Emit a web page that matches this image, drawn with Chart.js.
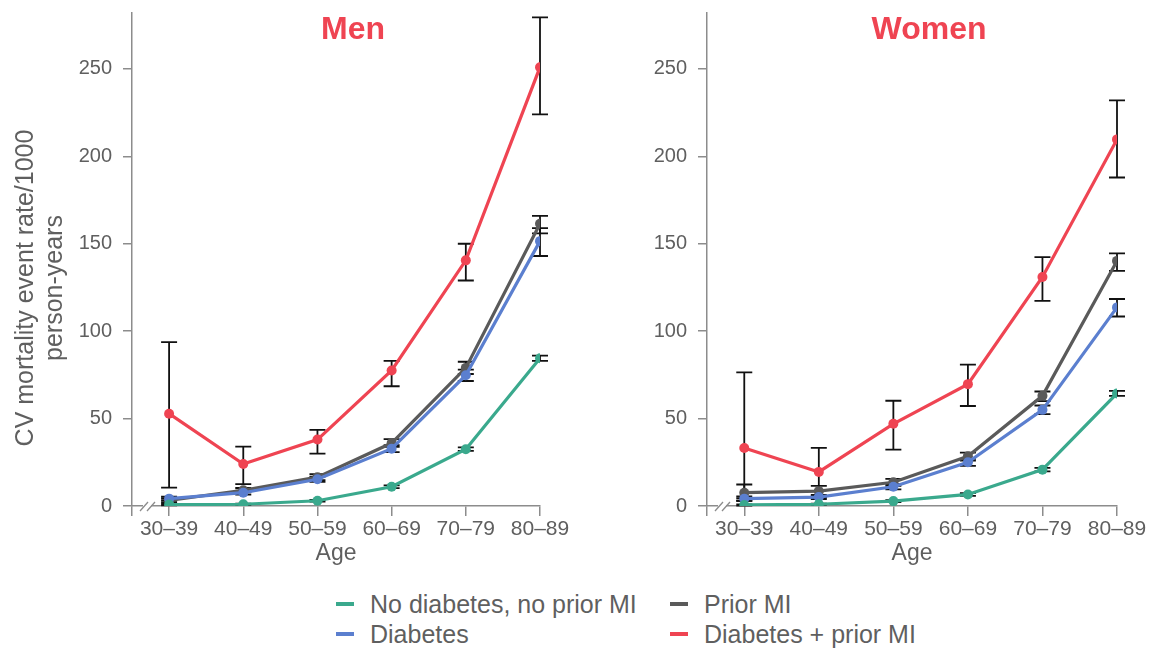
<!DOCTYPE html>
<html><head><meta charset="utf-8">
<script src="https://cdn.jsdelivr.net/npm/chart.js@4.4.1/dist/chart.umd.min.js"></script>
<style>
html,body{margin:0;padding:0;background:#fff;width:1150px;height:650px;overflow:hidden;font-family:"Liberation Sans",Arial,sans-serif;}
canvas{position:absolute;top:0;}
#legend{position:absolute;left:336px;top:589px;display:grid;grid-template-columns:334px auto;grid-auto-rows:30px;}
.item{display:flex;align-items:center;font-size:25px;color:#5f5f5f;white-space:nowrap;}
.mk{display:inline-block;width:18px;height:4px;margin-right:16px;}
</style></head>
<body>
<canvas id="men" width="575" height="575" style="left:0"></canvas>
<canvas id="women" width="575" height="575" style="left:575px"></canvas>
<div id="legend"></div>
<script>
// ---- data ----
const ageGroups = ['30–39','40–49','50–59','60–69','70–79','80–89'];
const yTickValues = [0,50,100,150,200,250];
const seriesNames = ['No diabetes, no prior MI','Diabetes','Prior MI','Diabetes + prior MI'];
const seriesColors = ['#3aa98d','#5b7fcf','#5a5a5a','#ef4452'];

// Men
const menNone     = [0.8, 1.0, 3.0, 11.0, 32.5, 84.5];
const menNoneLo   = [0.4, 0.6, 2.5, 10.2, 31.5, 83.0];
const menNoneHi   = [1.2, 1.4, 3.5, 11.8, 33.5, 86.0];
const menDiab     = [4.2, 7.6, 15.3, 32.8, 74.8, 151.5];
const menDiabLo   = [3.2, 6.5, 13.8, 30.8, 71.5, 143.0];
const menDiabHi   = [5.3, 8.8, 16.8, 34.8, 78.0, 159.0];
const menMI       = [3.2, 9.0, 16.5, 36.0, 79.0, 161.5];
const menMILo     = [2.2, 7.8, 14.8, 33.8, 75.5, 156.0];
const menMIHi     = [4.3, 10.3, 18.2, 38.2, 82.5, 166.0];
const menBoth     = [52.8, 24.0, 38.0, 77.5, 140.5, 251.0];
const menBothLo   = [10.5, 12.5, 30.0, 68.5, 129.0, 224.0];
const menBothHi   = [93.7, 34.0, 43.5, 83.0, 150.0, 279.5];

// Women
const womenNone   = [0.6, 1.0, 2.8, 6.6, 20.8, 64.4];
const womenNoneLo = [0.3, 0.6, 2.3, 5.8, 19.8, 63.0];
const womenNoneHi = [0.9, 1.4, 3.3, 7.4, 21.8, 65.8];
const womenDiab   = [4.2, 5.1, 11.0, 25.0, 55.0, 113.6];
const womenDiabLo = [3.0, 4.0, 9.5, 23.0, 52.5, 108.4];
const womenDiabHi = [5.5, 6.3, 12.5, 27.0, 57.5, 118.4];
const womenMI     = [7.6, 8.5, 13.6, 28.4, 63.0, 140.2];
const womenMILo   = [4.5, 5.5, 11.5, 26.0, 60.0, 134.5];
const womenMIHi   = [12.3, 11.5, 15.5, 30.5, 65.5, 144.5];
const womenBoth   = [33.2, 19.5, 47.0, 69.7, 131.0, 209.7];
const womenBothLo = [3.0, 5.0, 32.2, 57.2, 117.3, 187.9];
const womenBothHi = [76.4, 33.2, 60.2, 80.9, 142.4, 232.0];

const yTitleLines = ['CV mortality event rate/1000','person-years'];
const xTitle = 'Age';

// ---- helpers ----
Chart.defaults.font.family = "'Liberation Sans', Arial, sans-serif";
const axisColor = '#8c8c8c';
const textColor = '#5f5f5f';

function pts(arr){ return arr.map((v,i)=>({x:i,y:v})); }

function mkDataset(idx, vals, lo, hi, order){
  return {
    label: seriesNames[idx], data: pts(vals), errLo: lo, errHi: hi,
    borderColor: seriesColors[idx], backgroundColor: seriesColors[idx],
    pointBackgroundColor: seriesColors[idx], pointBorderWidth: 0,
    pointRadius: 5, borderWidth: 3.2, tension: 0, order: order
  };
}

const errorBarPlugin = {
  id: 'errorBars',
  beforeDatasetsDraw(chart){
    const ctx = chart.ctx, xs = chart.scales.x, ys = chart.scales.y;
    ctx.save();
    ctx.strokeStyle = '#111'; ctx.lineWidth = 1.8;
    chart.data.datasets.forEach(ds=>{
      ds.data.forEach((p,j)=>{
        const x = xs.getPixelForValue(p.x);
        const y1 = ys.getPixelForValue(ds.errLo[j]);
        const y2 = ys.getPixelForValue(ds.errHi[j]);
        ctx.beginPath();
        ctx.moveTo(x,y1); ctx.lineTo(x,y2);
        ctx.moveTo(x-8,y1); ctx.lineTo(x+8,y1);
        ctx.moveTo(x-8,y2); ctx.lineTo(x+8,y2);
        ctx.stroke();
      });
    });
    ctx.restore();
  }
};

const panelPlugin = {
  id: 'panel',
  afterDraw(chart, args, opts){
    const ctx = chart.ctx, a = chart.chartArea;
    ctx.save();
    ctx.fillStyle = '#ef4452';
    ctx.font = "bold 32px 'Liberation Sans', Arial, sans-serif";
    ctx.textAlign = 'center'; ctx.textBaseline = 'alphabetic';
    ctx.fillText(opts.text, (a.left + a.right)/2 + 17, 39);
    // rotated y-axis title
    if (opts.yTitle) {
      ctx.fillStyle = textColor;
      ctx.font = "25px 'Liberation Sans', Arial, sans-serif";
      ctx.textBaseline = 'alphabetic';
      ctx.translate(33, 288);
      ctx.rotate(-Math.PI/2);
      opts.yTitle.forEach((line, k)=>{ ctx.fillText(line, 0, k*29); });
      ctx.setTransform(1,0,0,1,0,0);
    }
    // axis break marks
    const y0 = chart.scales.y.getPixelForValue(0);
    const bx = a.left + 13;
    ctx.fillStyle = '#fff';
    ctx.fillRect(bx - 2, y0 - 2, 8, 4);
    ctx.strokeStyle = axisColor; ctx.lineWidth = 1.3;
    ctx.beginPath();
    ctx.moveTo(bx - 5, y0 + 5); ctx.lineTo(bx + 3, y0 - 4);
    ctx.moveTo(bx + 2, y0 + 5); ctx.lineTo(bx + 10, y0 - 4);
    ctx.stroke();
    ctx.restore();
  }
};

function makeChart(id, title, showYTitle, padRight, series){
  const datasets = [
    mkDataset(2, series[2][0], series[2][1], series[2][2], 4),
    mkDataset(1, series[1][0], series[1][1], series[1][2], 3),
    mkDataset(0, series[0][0], series[0][1], series[0][2], 2),
    mkDataset(3, series[3][0], series[3][1], series[3][2], 1)
  ];
  return new Chart(document.getElementById(id), {
    type: 'line',
    data: { datasets },
    plugins: [errorBarPlugin, panelPlugin],
    options: {
      responsive: false, animation: false, devicePixelRatio: 1,
      layout: { padding: { top: 13, right: padRight, left: 0, bottom: 0 } },
      plugins: { legend: { display: false }, tooltip: { enabled: false },
                 panel: { text: title, yTitle: showYTitle ? yTitleLines : null } },
      scales: {
        x: {
          type: 'linear', min: -0.5, max: ageGroups.length - 1,
          afterBuildTicks: s => { s.ticks = [{value:-0.5}].concat(ageGroups.map((c,i)=>({value:i}))); },
          afterFit: s => { s.height = 69; },
          ticks: { callback: v => Number.isInteger(v) ? ageGroups[v] : '', color: textColor,
                   font: { size: 21 }, padding: 1, autoSkip: false, maxRotation: 0 },
          grid: { drawOnChartArea: false, tickLength: 10, color: axisColor, lineWidth: 1.5 },
          border: { color: axisColor, width: 1.5 },
          title: { display: true, text: xTitle, color: textColor, font: { size: 23 },
                   padding: { top: 0, bottom: 8 } }
        },
        y: {
          min: 0, max: 282,
          afterBuildTicks: s => { s.ticks = yTickValues.map(v=>({value:v})); },
          afterFit: s => { s.width = 132; s.paddingTop = 0; s.paddingBottom = 0; },
          ticks: { color: textColor, font: { size: 20 }, padding: 11 },
          grid: { drawOnChartArea: false, tickLength: 9, color: axisColor, lineWidth: 1.5 },
          border: { color: axisColor, width: 1.5 }
        }
      }
    }
  });
}

makeChart('men', 'Men', true, 35, [
  [menNone, menNoneLo, menNoneHi],
  [menDiab, menDiabLo, menDiabHi],
  [menMI, menMILo, menMIHi],
  [menBoth, menBothLo, menBothHi]
]);
makeChart('women', 'Women', false, 33, [
  [womenNone, womenNoneLo, womenNoneHi],
  [womenDiab, womenDiabLo, womenDiabHi],
  [womenMI, womenMILo, womenMIHi],
  [womenBoth, womenBothLo, womenBothHi]
]);

// legend (order: row-major as in reference)
const legendOrder = [0, 2, 1, 3];
const lg = document.getElementById('legend');
legendOrder.forEach(i=>{
  const d = document.createElement('div'); d.className = 'item';
  const m = document.createElement('span'); m.className = 'mk'; m.style.background = seriesColors[i];
  const t = document.createElement('span'); t.textContent = seriesNames[i];
  d.appendChild(m); d.appendChild(t); lg.appendChild(d);
});
</script>
</body></html>
